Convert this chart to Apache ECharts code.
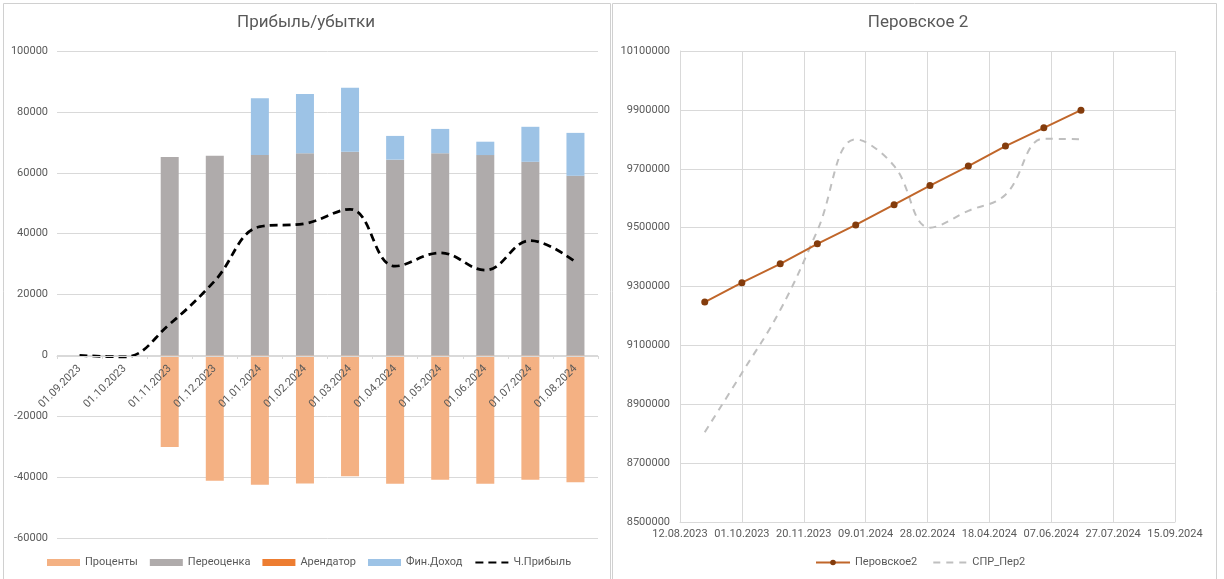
<!DOCTYPE html>
<html>
<head>
<meta charset="utf-8">
<script src="https://cdn.jsdelivr.net/npm/echarts@6/dist/echarts.min.js"></script>
<style>
html,body{margin:0;padding:0;background:#fff;}
#c{width:1224px;height:579px;}
</style>
</head>
<body>
<div id="c"></div>
<script>
// ---- Left chart data ----
const categories = ['01.09.2023','01.10.2023','01.11.2023','01.12.2023','01.01.2024','01.02.2024','01.03.2024','01.04.2024','01.05.2024','01.06.2024','01.07.2024','01.08.2024'];
const procenty   = [null, null, -30100, -41200, -42500, -42100, -39700, -42200, -40900, -42200, -40900, -41700];
const pereocenka = [null, null, 65200, 65600, 65800, 66400, 66900, 64300, 66400, 65800, 63600, 59000];
const arendator  = [0, 0, 0, 0, 0, 0, 0, 0, 0, 0, 0, 0];
const finDohod   = [null, null, 0, 0, 18700, 19500, 21000, 7800, 8000, 4400, 11500, 14100];
const chPribyl   = [0, -500, 10300, 24500, 42300, 43300, 48000, 29300, 33700, 28000, 37700, 30700];

// ---- Right chart data ----
const dates      = ['01.09.2023','01.10.2023','01.11.2023','01.12.2023','01.01.2024','01.02.2024','01.03.2024','01.04.2024','01.05.2024','01.06.2024','01.07.2024'];
const perovskoe2 = [9247000, 9313000, 9377000, 9445000, 9509000, 9578000, 9643000, 9709000, 9777000, 9839000, 9899000];
const sprPer2    = [8805000, 9006000, 9220000, 9490000, 9800000, 9710000, 9500000, 9557000, 9612000, 9802000, 9800000];
const rightYTicks = [8500000, 8700000, 8900000, 9100000, 9300000, 9500000, 9700000, 9900000, 10100000];

function toSerial(s){ const p=s.split('.'); return Date.UTC(+p[2], +p[1]-1, +p[0])/86400000 + 25569; }
function fromSerial(v){ const d=new Date((v-25569)*86400000); const dd=String(d.getUTCDate()).padStart(2,'0'); const mm=String(d.getUTCMonth()+1).padStart(2,'0'); return dd+'.'+mm+'.'+d.getUTCFullYear(); }
function plain(v){ return String(v); }

const FONT = 'Roboto';
const TXT = '#595959';
const GRID = '#d9d9d9';
const HIDE = {color:'rgba(0,0,0,0)', borderColor:'rgba(0,0,0,0)', borderWidth:0};

const chart = echarts.init(document.getElementById('c'), null, {renderer:'canvas'});
chart.setOption({
  backgroundColor:'#ffffff',
  animation:false,
  textStyle:{fontFamily:FONT},
  graphic:[
    {type:'rect', shape:{x:3.5,y:3.5,width:607,height:590}, style:{fill:'none',stroke:'#d0d0d0',lineWidth:1}, silent:true, z:-10},
    {type:'rect', shape:{x:612.5,y:3.5,width:604,height:590}, style:{fill:'none',stroke:'#d0d0d0',lineWidth:1}, silent:true, z:-10}
  ],
  title:[
    {text:'Прибыль/убытки', left:306, top:14, textAlign:'center', padding:0, textStyle:{fontFamily:FONT,fontSize:17,fontWeight:'normal',color:TXT}},
    {text:'Перовское 2', left:918, top:14, textAlign:'center', padding:0, textStyle:{fontFamily:FONT,fontSize:17,fontWeight:'normal',color:TXT}}
  ],
  legend:[
    {left:47, top:557, padding:0, itemWidth:33, itemHeight:7, itemGap:12,
     textStyle:{fontFamily:FONT,fontSize:11,color:TXT},
     data:[{name:'Проценты',icon:'rect'},{name:'Переоценка',icon:'rect'},{name:'Арендатор',icon:'rect'},{name:'Фин.Доход',icon:'rect'},{name:'Ч.Прибыль', itemStyle:HIDE}]},
    {left:815, top:557, padding:0, itemWidth:34, itemHeight:7, itemGap:15,
     textStyle:{fontFamily:FONT,fontSize:11,color:TXT},
     data:[{name:'Перовское2'},{name:'СПР_Пер2', itemStyle:HIDE}]}
  ],
  grid:[
    {left:57, top:51, width:541, height:487, containLabel:false, outerBoundsMode:'none'},
    {left:680, top:51, width:495, height:471, containLabel:false, outerBoundsMode:'none'}
  ],
  xAxis:[
    {type:'category', gridIndex:0, data:categories, boundaryGap:true, position:'bottom', offset:-182, z:10,
     axisLine:{show:true,onZero:false,lineStyle:{color:GRID,width:1}},
     axisTick:{show:true,length:3,lineStyle:{color:GRID}},
     axisLabel:{rotate:45, interval:0, margin:11, fontFamily:FONT, fontSize:11, color:TXT},
     splitLine:{show:false}},
    {type:'value', gridIndex:1, min:45150, max:45550, interval:50,
     axisLine:{show:true,lineStyle:{color:GRID}},
     axisTick:{show:false},
     axisLabel:{margin:7, fontFamily:FONT, fontSize:11, color:TXT, formatter:fromSerial, showMinLabel:true, showMaxLabel:true},
     splitLine:{show:true,lineStyle:{color:GRID,width:1}}}
  ],
  yAxis:[
    {type:'value', gridIndex:0, min:-60000, max:100000, interval:20000,
     axisLine:{show:false}, axisTick:{show:false},
     axisLabel:{margin:9, fontFamily:FONT, fontSize:11, color:TXT, formatter:plain},
     splitLine:{show:true,lineStyle:{color:GRID,width:1}}},
    {type:'value', gridIndex:1, min:8500000, max:10100000,
     axisLine:{show:true,lineStyle:{color:GRID}},
     axisTick:{show:false, customValues:rightYTicks},
     axisLabel:{margin:10, fontFamily:FONT, fontSize:11, color:TXT, customValues:rightYTicks, formatter:plain},
     splitLine:{show:true,lineStyle:{color:GRID,width:1}}}
  ],
  series:[
    {name:'Проценты', type:'bar', xAxisIndex:0, yAxisIndex:0, stack:'a', barWidth:18, data:procenty, itemStyle:{color:'#F4B183'}},
    {name:'Переоценка', type:'bar', xAxisIndex:0, yAxisIndex:0, stack:'a', barWidth:18, data:pereocenka, itemStyle:{color:'#AFABAB'}},
    {name:'Арендатор', type:'bar', xAxisIndex:0, yAxisIndex:0, stack:'a', barWidth:18, data:arendator, itemStyle:{color:'#ED7D31'}},
    {name:'Фин.Доход', type:'bar', xAxisIndex:0, yAxisIndex:0, stack:'a', barWidth:18, data:finDohod, itemStyle:{color:'#9DC3E6'}},
    {name:'Ч.Прибыль', type:'line', xAxisIndex:0, yAxisIndex:0, data:chPribyl, smooth:0.4, symbol:'none', z:5,
     lineStyle:{color:'#000000', width:2.75, type:[8,5]}, itemStyle:{color:'#000000'}},
    {name:'Перовское2', type:'line', xAxisIndex:1, yAxisIndex:1,
     data:dates.map((d,i)=>[toSerial(d), perovskoe2[i]]),
     symbol:'circle', symbolSize:7, z:5,
     lineStyle:{color:'#C0662A', width:2}, itemStyle:{color:'#843C0C', borderWidth:0}},
    {name:'СПР_Пер2', type:'line', xAxisIndex:1, yAxisIndex:1,
     data:dates.map((d,i)=>[toSerial(d), sprPer2[i]]),
     smooth:0.4, symbol:'none', z:4,
     lineStyle:{color:'#BFBFBF', width:2, type:[7,6]}, itemStyle:{color:'#BFBFBF'}}
  ]
});
</script>
</body>
</html>
